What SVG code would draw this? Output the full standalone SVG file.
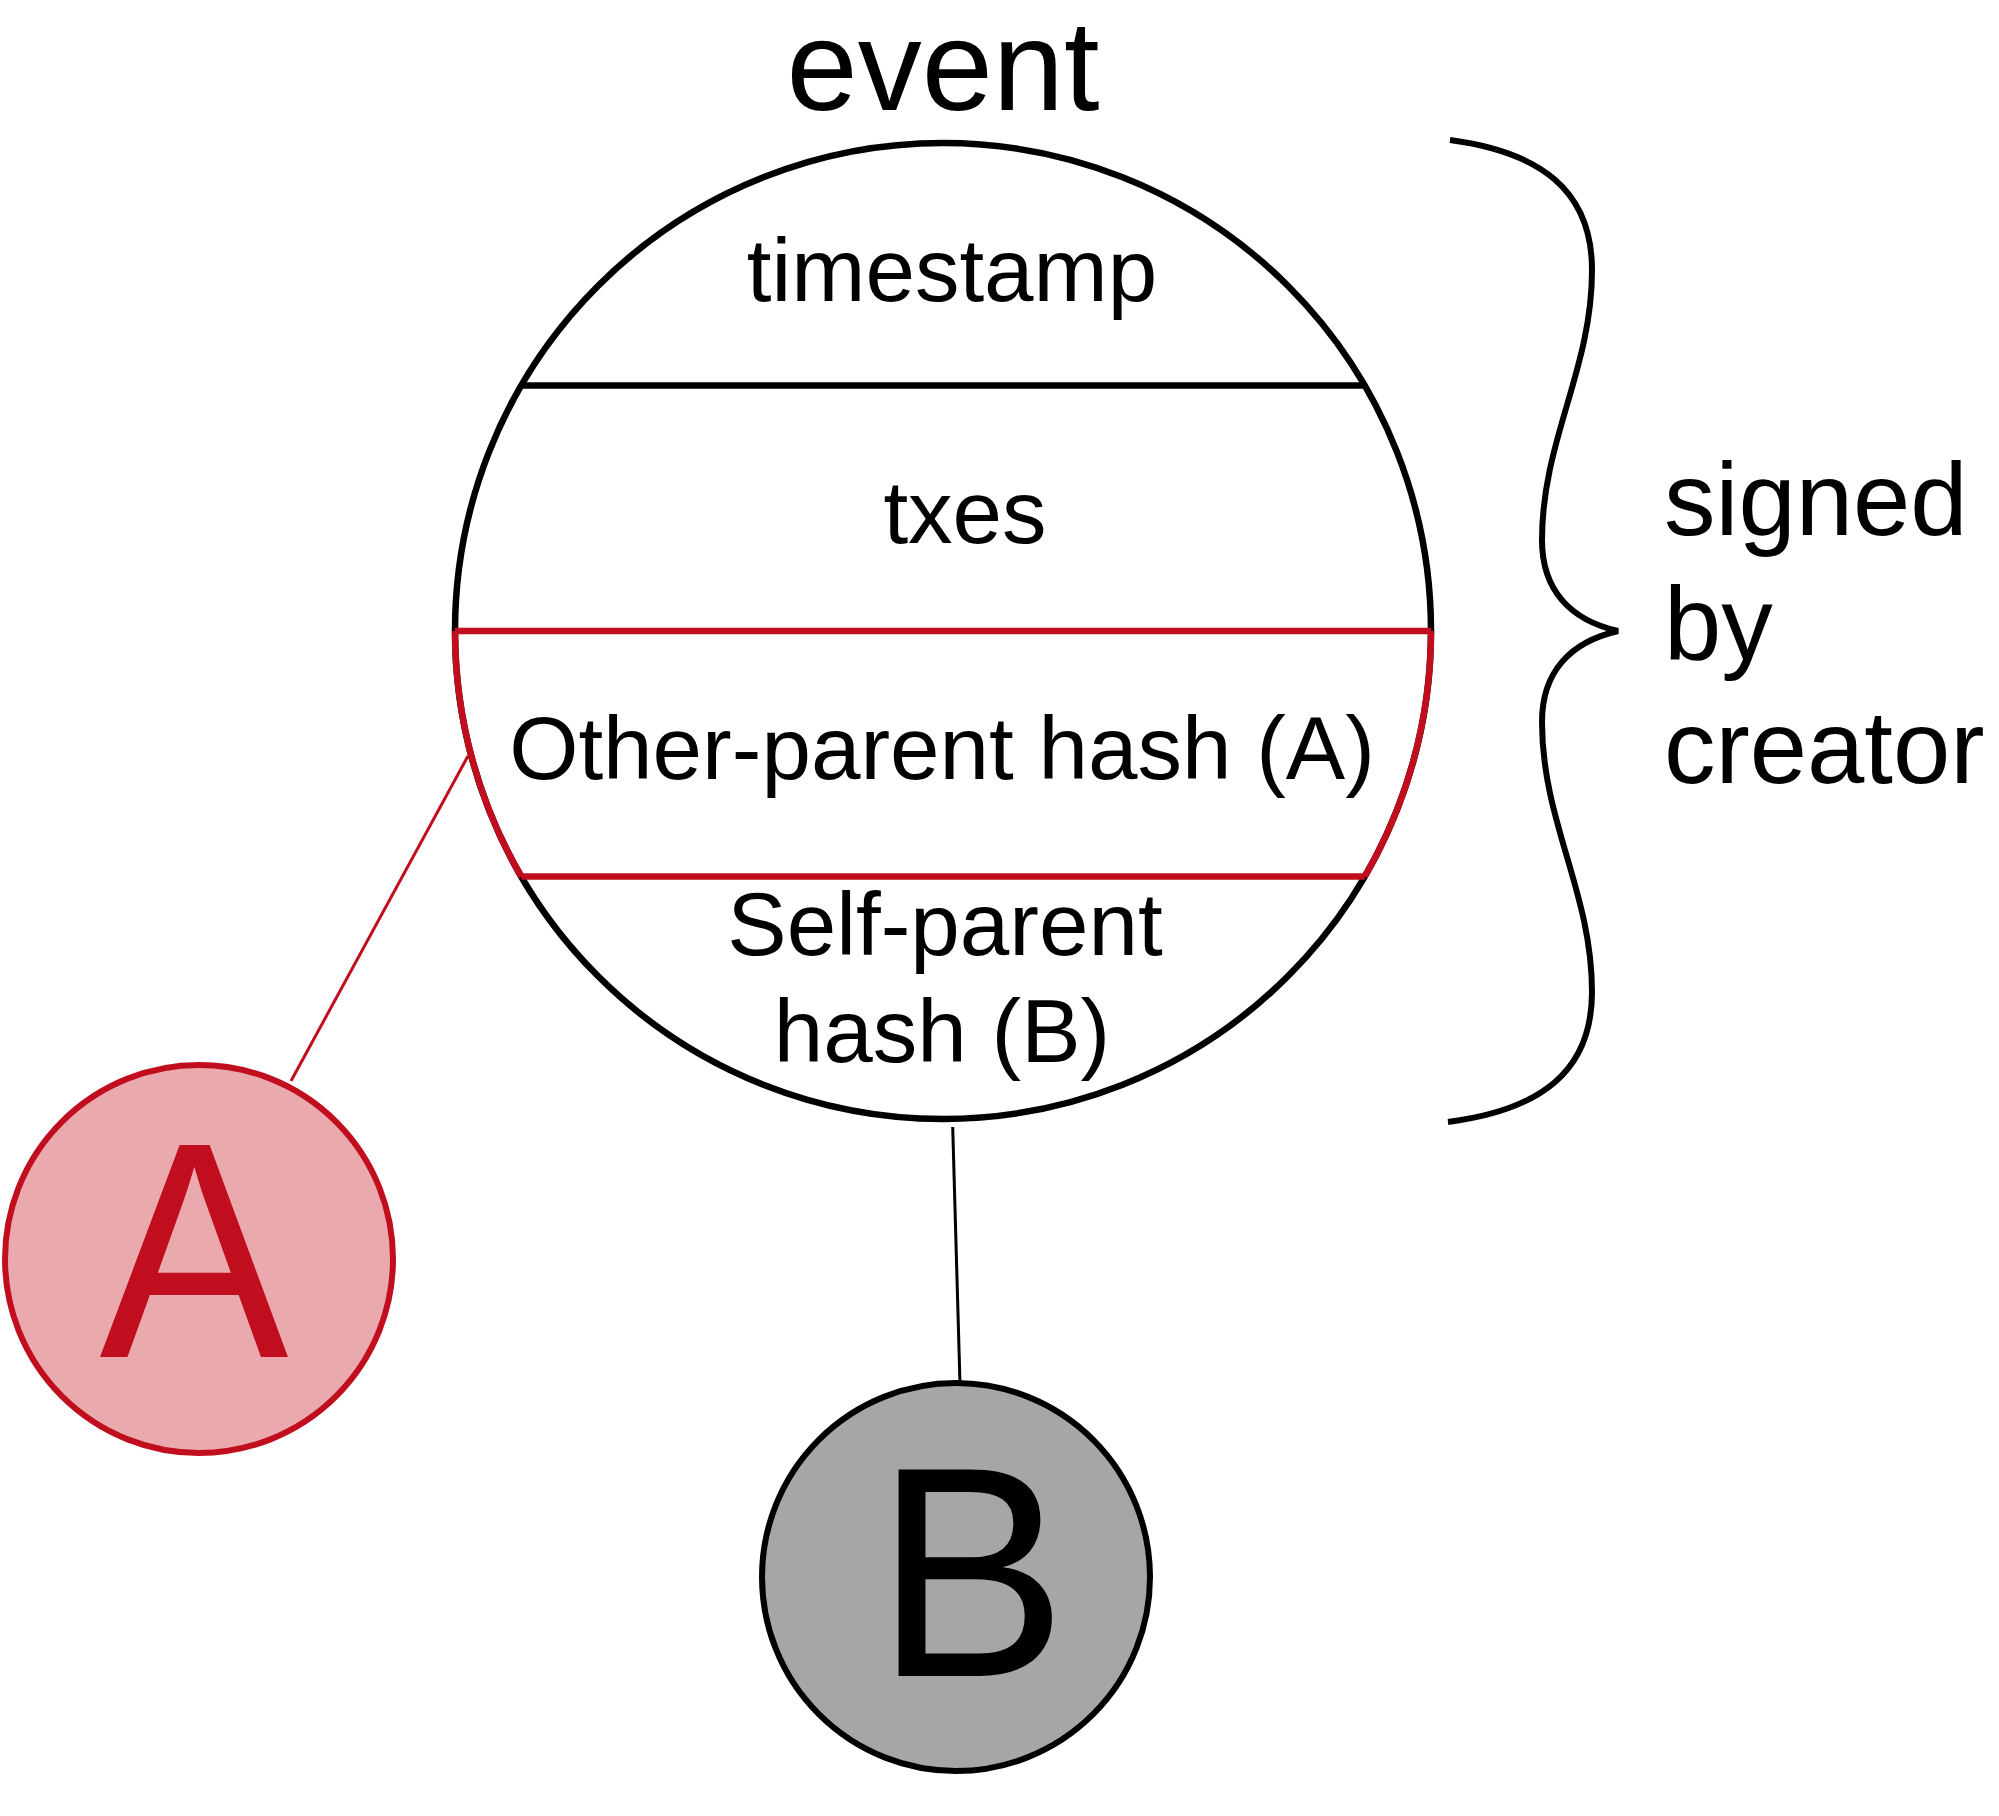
<svg xmlns="http://www.w3.org/2000/svg" width="1999" height="1816" viewBox="0 0 1999 1816">
<style>
text{font-family:"Liberation Sans",Arial,Helvetica,sans-serif;fill:#000}
.lbl{font-size:89px;text-anchor:middle}
.blk{fill:none;stroke:#000;stroke-width:6.5}
.red{fill:none;stroke:#C10E1E;stroke-width:6.5}
</style>
<rect width="1999" height="1816" fill="#fff"/>
<g id="connectors">
<line x1="468" y1="756" x2="291" y2="1081" stroke="#C10E1E" stroke-width="3"/>
<line x1="952.7" y1="1127" x2="960" y2="1384" stroke="#000" stroke-width="3"/>
</g>
<g id="event">
<text x="943" y="110" style="font-size:128px;text-anchor:middle">event</text>
<circle cx="943" cy="631" r="488" fill="#fff" class="blk"/>
<line x1="521" y1="385.5" x2="1365" y2="385.5" class="blk"/>
<path d="M455,631 A488,488 0 0 0 521.3,876.5" class="red"/>
<path d="M1431,631 A488,488 0 0 1 1364.7,876.5" class="red"/>
<line x1="455" y1="631" x2="1431" y2="631" class="red"/>
<line x1="521.3" y1="876.5" x2="1364.7" y2="876.5" class="red"/>
<text class="lbl" x="952" y="301">timestamp</text>
<text class="lbl" x="965" y="543">txes</text>
<text class="lbl" x="942" y="779">Other-parent hash (A)</text>
<text class="lbl" x="945" y="955">Self-parent</text>
<text class="lbl" x="942" y="1062">hash (B)</text>
</g>
<g id="brace">
<path d="M1450,140 C1540,152 1592,190 1592,270 C1592,370 1542,440 1542,540 C1542,590 1570,620 1618,631 C1570,642 1542,672 1542,722 C1542,822 1592,892 1592,992 C1592,1072 1540,1110 1448,1122" fill="none" stroke="#000" stroke-width="6"/>
<text x="1664" y="535" style="font-size:103px">signed</text>
<text x="1664" y="659" style="font-size:103px">by</text>
<text x="1664" y="783" style="font-size:103px">creator</text>
</g>
<g id="nodeA">
<circle cx="199" cy="1259" r="194" fill="#E9A9AD" stroke="#C10E1E" stroke-width="6"/>
<text transform="translate(194,1357) scale(0.92,1)" x="0" y="0" style="font-size:308px;text-anchor:middle;fill:#C10E1E">A</text>
</g>
<g id="nodeB">
<circle cx="956" cy="1577" r="194" fill="#A6A6A6" stroke="#000" stroke-width="6"/>
<text transform="translate(971,1676) scale(0.96,1)" x="0" y="0" style="font-size:300px;text-anchor:middle">B</text>
</g>
</svg>
